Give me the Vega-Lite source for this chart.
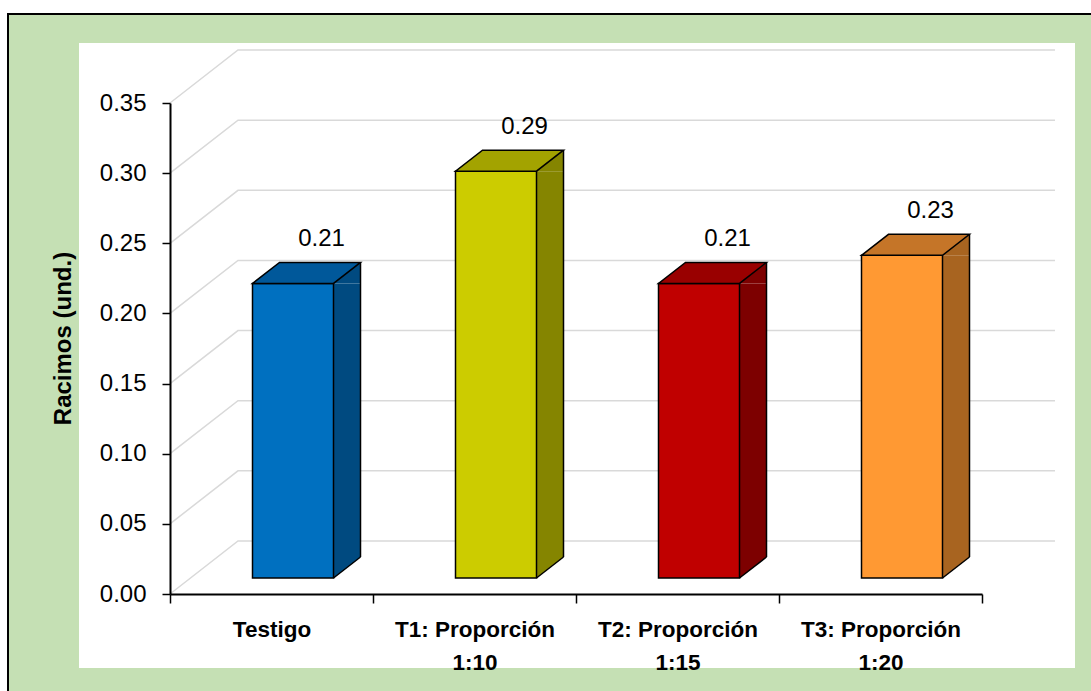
{
  "$schema": "https://vega.github.io/schema/vega-lite/v6.json",
  "width": 812,
  "height": 491,
  "autosize": "none",
  "padding": {"left": 170, "top": 103, "right": 109, "bottom": 97},
  "background": "white",
  "config": {
    "view": {"stroke": null},
    "font": "Liberation Sans, Arial, sans-serif"
  },
  "datasets": {
    "racimos": [
      {"tratamiento": "Testigo", "racimos": 0.21},
      {"tratamiento": "T1: Proporción 1:10", "racimos": 0.29},
      {"tratamiento": "T2: Proporción 1:15", "racimos": 0.21},
      {"tratamiento": "T3: Proporción 1:20", "racimos": 0.23}
    ],
    "marcas": [
      {"v": 0}, {"v": 0.05}, {"v": 0.1}, {"v": 0.15},
      {"v": 0.2}, {"v": 0.25}, {"v": 0.3}, {"v": 0.35}
    ],
    "marco": [{"v": 0}]
  },
  "encoding": {
    "x": {
      "field": "tratamiento", "type": "nominal",
      "scale": {"domain": ["Testigo", "T1: Proporción 1:10", "T2: Proporción 1:15", "T3: Proporción 1:20"],
                "paddingInner": 0, "paddingOuter": 0},
      "axis": {
        "title": null, "tickBand": "extent", "labelAngle": 0,
        "labelExpr": "datum.label == 'Testigo' ? datum.label : [slice(datum.label, 0, 14), slice(datum.label, 15)]",
        "labelFontSize": 22.5, "labelFontWeight": "bold", "labelColor": "black",
        "labelBaseline": "top", "labelPadding": 15, "labelLineHeight": 33,
        "labelLimit": 0, "labelOverlap": false,
        "domainColor": "black", "domainWidth": 2,
        "tickColor": "black", "tickWidth": 1.5, "tickSize": 9, "zindex": 1
      }
    },
    "y": {
      "field": "racimos", "type": "quantitative",
      "scale": {"domain": [0, 0.35], "nice": false, "zero": true},
      "axis": {
        "title": "Racimos (und.)", "values": [0, 0.05, 0.1, 0.15, 0.2, 0.25, 0.3, 0.35],
        "format": ".2f", "grid": false,
        "labelFontSize": 24, "labelColor": "black", "labelPadding": 16,
        "domainColor": "black", "domainWidth": 2,
        "tickColor": "black", "tickWidth": 1.5, "tickSize": 8,
        "titleFontSize": 24, "titleFontWeight": "bold", "titleColor": "black",
        "titleAngle": 270, "titleBaseline": "alphabetic", "titleAlign": "center",
        "titleX": -100, "titleY": 235, "zindex": 1
      }
    }
  },
  "layer": [
    {
      "data": {"name": "marco"},
      "mark": {"type": "point", "shape": "M-162,-580L926,-580L926,102L-162,102Z", "size": 4,
               "filled": true, "fill": "#c5e0b4", "stroke": "black", "strokeWidth": 2, "opacity": 1},
      "encoding": {
        "x": {"datum": "Testigo", "bandPosition": 0},
        "y": {"field": "v", "type": "quantitative"}
      }
    },
    {
      "data": {"name": "marco"},
      "mark": {"type": "point", "shape": "M-91,-551L905,-551L905,74L-91,74Z", "size": 4,
               "filled": true, "fill": "white", "strokeWidth": 0, "opacity": 1},
      "encoding": {
        "x": {"datum": "Testigo", "bandPosition": 0},
        "y": {"field": "v", "type": "quantitative"}
      }
    },
    {
      "data": {"name": "marcas"},
      "mark": {"type": "point", "shape": "M0,0L68,-53L885,-53", "size": 4, "filled": false,
               "stroke": "#d9d9d9", "strokeWidth": 1.5, "opacity": 1},
      "encoding": {
        "x": {"datum": "Testigo", "bandPosition": 0},
        "y": {"field": "v", "type": "quantitative"}
      }
    },
    {
      "data": {"name": "racimos"},
      "mark": {"type": "bar", "size": 27, "xOffset": 75.5, "yOffset": -16, "y2Offset": -37},
      "encoding": {
        "y2": {"datum": 0},
        "fill": {"field": "tratamiento", "type": "nominal", "legend": null,
                 "scale": {"domain": ["Testigo", "T1: Proporción 1:10", "T2: Proporción 1:15", "T3: Proporción 1:20"],
                           "range": ["#004a80", "#858500", "#7d0000", "#a86420"]}}
      }
    },
    {
      "data": {"name": "racimos"},
      "mark": {"type": "point", "shape": "M62,-16L89,-37L89,-16Z", "size": 4, "filled": true, "opacity": 1},
      "encoding": {
        "fill": {"field": "tratamiento", "type": "nominal", "legend": null,
                 "scale": {"domain": ["Testigo", "T1: Proporción 1:10", "T2: Proporción 1:15", "T3: Proporción 1:20"],
                           "range": ["#004a80", "#858500", "#7d0000", "#a86420"]}}
      }
    },
    {
      "data": {"name": "racimos"},
      "mark": {"type": "point", "shape": "M62,-37L89,-37L62,-16Z", "size": 4, "filled": true, "opacity": 1},
      "encoding": {
        "y": {"datum": 0, "type": "quantitative"},
        "fill": {"field": "tratamiento", "type": "nominal", "legend": null,
                 "scale": {"domain": ["Testigo", "T1: Proporción 1:10", "T2: Proporción 1:15", "T3: Proporción 1:20"],
                           "range": ["#004a80", "#858500", "#7d0000", "#a86420"]}}
      }
    },
    {
      "data": {"name": "racimos"},
      "mark": {"type": "rule", "color": "black", "strokeWidth": 1.5, "xOffset": 89, "yOffset": -37, "y2Offset": -37},
      "encoding": {
        "y2": {"datum": 0}
      }
    },
    {
      "data": {"name": "racimos"},
      "mark": {"type": "point", "shape": "M62,-16L89,-37", "size": 4, "filled": false,
               "stroke": "black", "strokeWidth": 1.5, "opacity": 1},
      "encoding": {
        "y": {"datum": 0, "type": "quantitative"}
      }
    },
    {
      "data": {"name": "racimos"},
      "mark": {"type": "bar", "size": 81, "xOffset": 21.5, "yOffset": -16, "y2Offset": -16,
               "stroke": "black", "strokeWidth": 1.5},
      "encoding": {
        "y2": {"datum": 0},
        "fill": {"field": "tratamiento", "type": "nominal", "legend": null,
                 "scale": {"domain": ["Testigo", "T1: Proporción 1:10", "T2: Proporción 1:15", "T3: Proporción 1:20"],
                           "range": ["#0070c0", "#cccc00", "#c00000", "#ff9933"]}}
      }
    },
    {
      "data": {"name": "racimos"},
      "mark": {"type": "point", "shape": "M-19,-16L62,-16L89,-37L8,-37Z", "size": 4, "filled": true,
               "stroke": "black", "strokeWidth": 1.5, "opacity": 1},
      "encoding": {
        "fill": {"field": "tratamiento", "type": "nominal", "legend": null,
                 "scale": {"domain": ["Testigo", "T1: Proporción 1:10", "T2: Proporción 1:15", "T3: Proporción 1:20"],
                           "range": ["#00589a", "#a3a300", "#990000", "#c57528"]}}
      }
    },
    {
      "data": {"name": "racimos"},
      "mark": {"type": "text", "fontSize": 24, "color": "black", "align": "center",
               "baseline": "alphabetic", "xOffset": 50, "yOffset": -53},
      "encoding": {
        "text": {"field": "racimos", "type": "quantitative", "format": ".2f"}
      }
    }
  ],
  "resolve": {"scale": {"fill": "independent"}}
}
